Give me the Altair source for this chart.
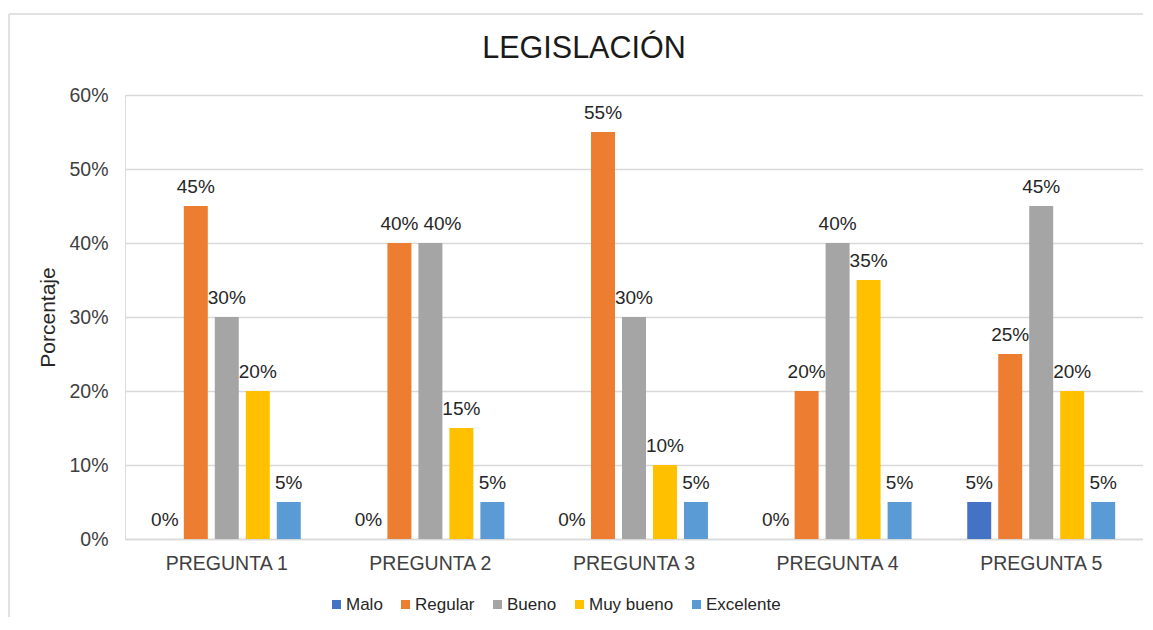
import altair as alt
import pandas as pd

preguntas = ["PREGUNTA 1", "PREGUNTA 2", "PREGUNTA 3", "PREGUNTA 4", "PREGUNTA 5"]
series = ["Malo", "Regular", "Bueno", "Muy bueno", "Excelente"]
colores = ["#4472C4", "#ED7D31", "#A5A5A5", "#FFC000", "#5B9BD5"]
malo = [0.00, 0.00, 0.00, 0.00, 0.05]
regular = [0.45, 0.40, 0.55, 0.20, 0.25]
bueno = [0.30, 0.40, 0.30, 0.40, 0.45]
muy_bueno = [0.20, 0.15, 0.10, 0.35, 0.20]
excelente = [0.05, 0.05, 0.05, 0.05, 0.05]
y_ticks = [0, 0.1, 0.2, 0.3, 0.4, 0.5, 0.6]
titulo = "LEGISLACIÓN"

valores = [malo, regular, bueno, muy_bueno, excelente]
rows = []
for s, vals in zip(series, valores):
    for p, v in zip(preguntas, vals):
        rows.append({"Pregunta": p, "Serie": s, "Valor": v})
df = pd.DataFrame(rows)

FONT = "Liberation Sans"
W, H = 1018, 444

x_enc = alt.X("Pregunta:N", sort=preguntas, title=None,
              scale=alt.Scale(paddingInner=0.239, paddingOuter=0.1195),
              axis=alt.Axis(labelAngle=0, labelFont=FONT, labelFontSize=19.5,
                            labelColor="#404040", labelPadding=15, ticks=False,
                            domainColor="#D9D9D9", domainWidth=1.5, grid=False))
xo_enc = alt.XOffset("Serie:N", sort=series,
                     scale=alt.Scale(paddingInner=0.226, paddingOuter=0.113))
y_enc = alt.Y("Valor:Q", title="Porcentaje",
              scale=alt.Scale(domain=[0, 0.6], nice=False),
              axis=alt.Axis(values=y_ticks, format=".0%", labelFont=FONT,
                            labelFontSize=19.5, labelColor="#404040",
                            labelPadding=17, ticks=False, domain=False,
                            gridColor="#D9D9D9", gridWidth=1.5,
                            titleFont=FONT, titleFontSize=21, titleFontWeight="normal",
                            titleColor="#262626", titleX=-77, titleY=H / 2,
                            titleAngle=270, titleAlign="center",
                            titleBaseline="middle"))
color_enc = alt.Color("Serie:N", sort=series,
                      scale=alt.Scale(domain=series, range=colores),
                      legend=alt.Legend(title=None, orient="none", direction="horizontal",
                                        legendX=203, legendY=501, columns=5,
                                        gridAlign="none",
                                        labelFont=FONT, labelFontSize=17,
                                        labelColor="#262626", symbolType="square",
                                        symbolSize=81, symbolStrokeWidth=0,
                                        labelOffset=1, columnPadding=14, padding=0))

base = alt.Chart(df)

bars = base.mark_bar().encode(x=x_enc, xOffset=xo_enc, y=y_enc, color=color_enc)

label_enc = dict(
    x=alt.X("Pregunta:N", sort=preguntas),
    xOffset=alt.XOffset("Serie:N", sort=series),
    y="Valor:Q",
    text=alt.Text("Valor:Q", format=".0%"),
)
clash = (alt.datum.Pregunta == "PREGUNTA 2") & (alt.datum.Serie == "Bueno")

labels = base.mark_text(font=FONT, fontSize=19, color="#262626",
                        baseline="alphabetic", dy=-13).encode(
    **label_enc).transform_filter(~clash)
labels_nudged = base.mark_text(font=FONT, fontSize=19, color="#262626",
                               baseline="alphabetic", dy=-13, dx=12).encode(
    **label_enc).transform_filter(clash)

one = alt.Chart(pd.DataFrame({"t": [titulo]}))

top_line = one.mark_rule(color="#D9D9D9", strokeWidth=1.5).encode(
    x=alt.value(-116), x2=alt.value(W + 40), y=alt.value(-81))
left_line = one.mark_rule(color="#D9D9D9", strokeWidth=1.5).encode(
    x=alt.value(-116), y=alt.value(-81), y2=alt.value(H + 120))

title_text = one.mark_text(font=FONT, fontSize=30.5, color="#1a1a1a",
                           align="center", baseline="alphabetic").encode(
    x=alt.value(459), y=alt.value(-37), text="t:N")

chart = alt.layer(top_line, left_line, bars, labels, labels_nudged, title_text).properties(
    width=W, height=H,
    autosize=alt.AutoSizeParams(type="none"),
    padding={"left": 117, "top": 87, "right": 0, "bottom": 78},
).configure_view(stroke=None).configure(background="white")

chart.save("out.html", embed_options={"renderer": "svg", "actions": False})
